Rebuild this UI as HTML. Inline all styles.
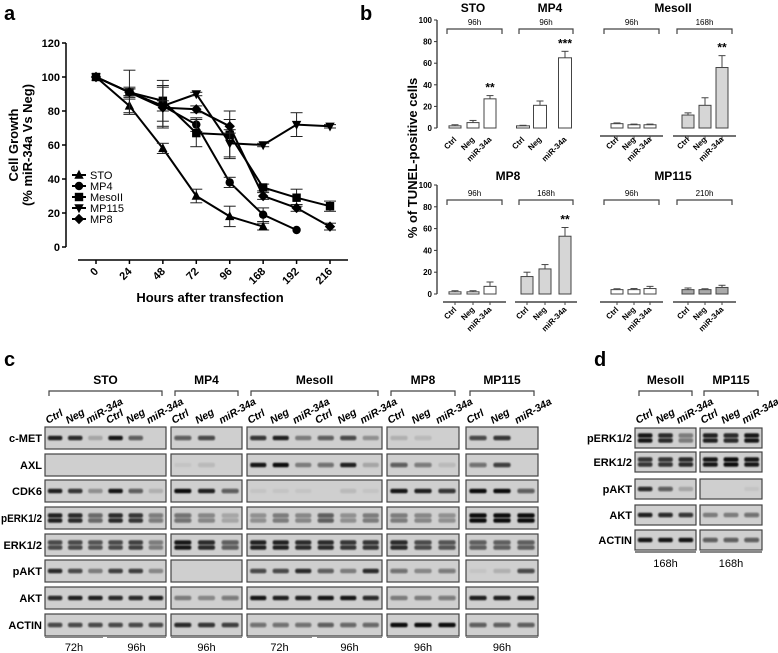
<!DOCTYPE html>
<html><head><meta charset="utf-8"><style>
body{margin:0;background:#fff}
svg{display:block;font-family:"Liberation Sans",Arial,sans-serif}
</style></head><body>
<svg id="fig" width="778" height="653" viewBox="0 0 778 653" xmlns="http://www.w3.org/2000/svg">
<defs><filter id="blur" x="-20%" y="-100%" width="140%" height="300%"><feGaussianBlur stdDeviation="0.9"/></filter></defs>
<g id="pa"></g>
<g id="pb"></g>
<g id="pc"></g>
<g id="pd"></g>
</svg>
<script>
const NS='http://www.w3.org/2000/svg';
function el(tag,attrs,parent,txt){const e=document.createElementNS(NS,tag);for(const k in attrs)e.setAttribute(k,attrs[k]);if(txt!==undefined)e.textContent=txt;parent.appendChild(e);return e;}

// ===== Panel a data =====
const hours=['0','24','48','72','96','168','192','216'];
const seriesNames=['STO','MP4','MesoII','MP115','MP8'];
const stoVals=[100,83,58,30,18,12,null,null];
const mp4Vals=[100,91,83,72,38,19,10,null];
const mesoVals=[100,91,86,67,66,35,29,24];
const mp115Vals=[100,91,83,90,61,60,72,71];
const mp8Vals=[100,91,82,81,71,30,23,12];
const stoErr=[0,4,3,4,6,2,0,0];
const mp4Err=[0,3,12,4,3,4,0,0];
const mesoErr=[0,13,12,8,14,2,5,3];
const mp115Err=[0,2,3,1,8,1,7,1];
const mp8Err=[0,2,12,2,4,2,2,2];
const yTicksA=[0,20,40,60,80,100,120];

// ===== Panel b data =====
const tunelCats=['Ctrl','Neg','miR-34a'];
const stoTunel=[2,5,27], stoTunelErr=[1,2,3];
const mp4Tunel=[2,21,65], mp4TunelErr=[0.5,4,6];
const meso96Tunel=[4,3,3], meso96TunelErr=[0.7,0.6,0.6];
const meso168Tunel=[12,21,56], meso168TunelErr=[2,7,11];
const mp8_96Tunel=[2,2,7], mp8_96TunelErr=[1,1,4];
const mp8_168Tunel=[16,23,53], mp8_168TunelErr=[4,4,8];
const mp115_96Tunel=[4,4,5], mp115_96TunelErr=[0.8,1,2];
const mp115_210Tunel=[4,4,6], mp115_210TunelErr=[1.5,0.8,2];
const yTicksB=[0,20,40,60,80,100];

// ===== Panel a =====
(function(){
const g=document.getElementById('pa');
el('text',{x:4,y:20,'font-size':20,'font-weight':'bold',},g,'a');
const y0=247,y1=43,x0=96,dx=(330-96)/7;
const Y=v=>y0-(v/120)*(y0-y1), X=i=>x0+i*dx;
const ax=el('g',{},g);
el('line',{x1:66,y1:Y(0),x2:66,y2:Y(120),stroke:'#000','stroke-width':1.5},ax);
yTicksA.forEach(t=>{el('line',{x1:62,y1:Y(t),x2:66,y2:Y(t),stroke:'#000','stroke-width':1.5},ax);
 el('text',{x:60,y:Y(t)+4,'text-anchor':'end','font-size':11,'font-weight':'bold'},ax,t);});
const xa=el('g',{},g);
el('line',{x1:78,y1:260,x2:348,y2:260,stroke:'#000','stroke-width':1.5},xa);
hours.forEach((h,i)=>{el('line',{x1:X(i),y1:260,x2:X(i),y2:264,stroke:'#000','stroke-width':1.5},xa);
 el('text',{x:X(i)+3,y:272,'text-anchor':'end','font-size':11,'font-weight':'bold',transform:`rotate(-45 ${X(i)+3} 272)`},xa,h);});
el('text',{x:210,y:302,'text-anchor':'middle','font-size':13,'font-weight':'bold',},g,'Hours after transfection');
const yt=el('text',{x:0,y:0,'text-anchor':'middle','font-size':13,'font-weight':'bold',transform:'translate(18 145) rotate(-90)',},g);
el('tspan',{x:0,dy:0},yt,'Cell Growth');el('tspan',{x:0,dy:14},yt,'(% miR-34a Vs Neg)');
function marker(kind,cx,cy,p){
 const r=4.2;
 if(kind===0)return el('polygon',{points:`${cx},${cy-r-1} ${cx-r-0.5},${cy+r-0.5} ${cx+r+0.5},${cy+r-0.5}`,fill:'#000'},p);
 if(kind===1)return el('circle',{cx,cy,r,fill:'#000'},p);
 if(kind===2)return el('rect',{x:cx-r,y:cy-r,width:2*r,height:2*r,fill:'#000'},p);
 if(kind===3)return el('polygon',{points:`${cx},${cy+r+1} ${cx-r-0.5},${cy-r+0.5} ${cx+r+0.5},${cy-r+0.5}`,fill:'#000'},p);
 return el('polygon',{points:`${cx},${cy-r-1} ${cx+r+1},${cy} ${cx},${cy+r+1} ${cx-r-1},${cy}`,fill:'#000'},p);
}
const all=[stoVals,mp4Vals,mesoVals,mp115Vals,mp8Vals], errs=[stoErr,mp4Err,mesoErr,mp115Err,mp8Err];
all.forEach((vals,s)=>{
 const sg=el('g',{},g);
 let pts=[];vals.forEach((v,i)=>{if(v!==null)pts.push(X(i)+','+Y(v));});
 el('polyline',{points:pts.join(' '),fill:'none',stroke:'#000','stroke-width':2},sg);
 vals.forEach((v,i)=>{if(v===null)return;const e=errs[s][i];
  if(e>0){el('line',{x1:X(i),y1:Y(v+e),x2:X(i),y2:Y(v-e),stroke:'#222','stroke-width':1},sg);
   el('line',{x1:X(i)-6,y1:Y(v+e),x2:X(i)+6,y2:Y(v+e),stroke:'#222','stroke-width':1},sg);
   el('line',{x1:X(i)-6,y1:Y(v-e),x2:X(i)+6,y2:Y(v-e),stroke:'#222','stroke-width':1},sg);}
  marker(s,X(i),Y(v),sg);});
});
const lg=el('g',{},g);
seriesNames.forEach((n,s)=>{const yy=175+s*11;const e=el('g',{},lg);
 el('line',{x1:72,y1:yy,x2:86,y2:yy,stroke:'#000','stroke-width':2},e);marker(s,79,yy,e);
 el('text',{x:90,y:yy+4,'font-size':11},e,n);});
})();

// ===== Panel b =====
(function(){
const g=document.getElementById('pb');
el('text',{x:360,y:20,'font-size':20,'font-weight':'bold',},g,'b');
el('text',{x:0,y:0,'text-anchor':'middle','font-size':13,'font-weight':'bold',transform:'translate(417 158) rotate(-90)',},g,'% of TUNEL-positive cells');
const rows=[{b:128,t:20,brk:29,lab:140,line:[false,false,true,true]},{b:294,t:185,brk:200,lab:310,line:[true,true,true,true]}];
rows.forEach((r,ri)=>{
 const Y=v=>r.b-v/100*(r.b-r.t);
 const ax=el('g',{},g);
 el('line',{x1:437,y1:Y(0),x2:437,y2:Y(100),stroke:'#333','stroke-width':1.3},ax);
 yTicksB.forEach(t=>{el('line',{x1:434,y1:Y(t),x2:437,y2:Y(t),stroke:'#333'},ax);
  el('text',{x:432,y:Y(t)+3,'text-anchor':'end','font-size':8,'font-weight':'bold'},ax,t);});
});
const groups=[
 {r:0,x0:447,x1:502,c:[455,473,490],w:12,v:stoTunel,e:stoTunelErr,f:'#fff',h:'96h',st:'**'},
 {r:0,x0:519,x1:573,c:[523,540,565],w:13,v:mp4Tunel,e:mp4TunelErr,f:'#fff',h:'96h',st:'***'},
 {r:0,x0:604,x1:659,c:[617,634,650],w:12,v:meso96Tunel,e:meso96TunelErr,f:'#fff',h:'96h',st:''},
 {r:0,x0:677,x1:732,c:[688,705,722],w:12,v:meso168Tunel,e:meso168TunelErr,f:'#d6d6d6',h:'168h',st:'**'},
 {r:1,x0:447,x1:502,c:[455,473,490],w:12,v:mp8_96Tunel,e:mp8_96TunelErr,f:'#fff',h:'96h',st:''},
 {r:1,x0:519,x1:573,c:[527,545,565],w:12,v:mp8_168Tunel,e:mp8_168TunelErr,f:'#d6d6d6',h:'168h',st:'**'},
 {r:1,x0:604,x1:659,c:[617,634,650],w:12,v:mp115_96Tunel,e:mp115_96TunelErr,f:'#fff',h:'96h',st:''},
 {r:1,x0:677,x1:732,c:[688,705,722],w:12,v:mp115_210Tunel,e:mp115_210TunelErr,f:'#aaa',h:'210h',st:''}];
groups.forEach((gr,gi)=>{
 const r=rows[gr.r];const Y=v=>r.b-v/100*(r.b-r.t);
 const gg=el('g',{},g);
 el('path',{d:`M${gr.x0} ${r.brk+5}V${r.brk}H${gr.x1}V${r.brk+5}`,fill:'none',stroke:'#444','stroke-width':1.2},gg);
 el('text',{x:(gr.x0+gr.x1)/2,y:r.brk-4,'text-anchor':'middle','font-size':8},gg,gr.h);
 if(r.line[gi%4])el('line',{x1:gr.x0-4,y1:r.b+8,x2:gr.x1+4,y2:r.b+8,stroke:'#444','stroke-width':1.5},gg);
 gr.v.forEach((v,i)=>{const cx=gr.c[i],e=gr.e[i];
  el('line',{x1:cx,y1:Y(v),x2:cx,y2:Y(v+e),stroke:'#444'},gg);
  el('line',{x1:cx-3.5,y1:Y(v+e),x2:cx+3.5,y2:Y(v+e),stroke:'#444'},gg);
  const bar=el('rect',{x:cx-gr.w/2,y:Y(v),width:gr.w,height:Math.max(r.b-Y(v),1),fill:gr.f,stroke:'#444','stroke-width':1},gg);
  
  
  if(r.line[gi%4])el('line',{x1:cx,y1:r.b+8,x2:cx,y2:r.b+11,stroke:'#444'},gg);
  const lx=cx+2,ly=r.lab;
  el('text',{x:lx,y:ly,'text-anchor':'end','font-size':8,'font-weight':'bold',transform:`rotate(-45 ${lx} ${ly})`},gg,tunelCats[i]);});
 if(gr.st){const last=gr.v.length-1;el('text',{x:gr.c[last],y:Y(gr.v[last]+gr.e[last])-4,'text-anchor':'middle','font-size':12,'font-weight':'bold'},gg,gr.st);}
});
[['STO',473,12],['MP4',550,12],['MesoII',673,12],['MP8',508,180],['MP115',673,180]].forEach(t=>{
 el('text',{x:t[1],y:t[2],'text-anchor':'middle','font-size':12,'font-weight':'bold',},g,t[0]);});
})();

// ===== Blot data =====
const rowsC=['c-MET','AXL','CDK6','pERK1/2','ERK1/2','pAKT','AKT','ACTIN'];
const dbl=[false,false,false,true,true,false,false,false];
const blotSTO=[[.9,.85,.2,.95,.6,0],[0,0,0,0,0,0],[.9,.8,.3,.95,.6,.15],[.9,.85,.55,.85,.8,.45],[.7,.7,.65,.7,.75,.4],[.85,.7,.4,.75,.75,.35],[.85,.9,.9,.85,.85,.9],[.7,.7,.7,.7,.7,.7]];
const blotMP4=[[.6,.7,0],[.05,.1,0],[1,.9,.6],[.5,.35,.2],[.95,.85,.6],[0,0,0],[.4,.35,.45],[.85,.8,.75]];
const blotMeso=[[.8,.9,.4,.6,.7,.3],[.95,1,.4,.5,.9,.2],[.05,.05,.05,0,.1,.05],[.3,.4,.35,.6,.3,.4],[.9,.9,.85,.85,.8,.8],[.7,.7,.85,.6,.4,.85],[.95,.9,.9,.95,.95,.85],[.5,.5,.5,.6,.55,.55]];
const blotMP8=[[.15,.1,0],[.6,.45,.1],[.95,.9,.8],[.4,.35,.3],[.85,.7,.65],[.5,.35,.45],[.4,.4,.45],[1,1,1]];
const blotMP115=[[.7,.8,0],[.5,.75,0],[1,1,.6],[1,1,1],[.6,.6,.6],[.05,.15,.7],[.9,.9,.95],[.6,.6,.6]];
const rowsD=['pERK1/2','ERK1/2','pAKT','AKT','ACTIN'];
const dblD=[true,true,false,false,false];
const blotDMeso=[[.95,.85,.4],[.8,.8,.85],[.85,.6,.2],[.9,.85,.8],[.95,.95,.95]];
const blotDMP115=[[.9,.85,.95],[.95,1,.95],[0,0,.05],[.4,.4,.5],[.6,.6,.6]];
const laneNames3=['Ctrl','Neg','miR-34a'];

function fitText(t,maxW){try{const w=t.getComputedTextLength();if(w>maxW){t.setAttribute('textLength',maxW);t.setAttribute('lengthAdjust','spacingAndGlyphs');}}catch(e){}}
function blotPanel(g,groups,rowNames,dblArr,rowY,boxH,labelX,titleY,brY,laneY,bottomY,timeY,maxLab){
 rowNames.forEach((n,ri)=>{const t=el('text',{x:labelX,y:rowY[ri]+4,'text-anchor':'end','font-size':11,'font-weight':'bold',},g,n);fitText(t,maxLab);});
 groups.forEach(gr=>{
  const gg=el('g',{},g);
  el('text',{x:(gr.x0+gr.x1)/2,y:titleY,'text-anchor':'middle','font-size':12,'font-weight':'bold'},gg,gr.name);
  el('path',{d:`M${gr.x0+4} ${brY+5}V${brY}H${gr.x1-4}V${brY+5}`,fill:'none',stroke:'#444','stroke-width':1.2},gg);
  const n=gr.data[0].length,pitch=(gr.x1-gr.x0)/n;
  gr.data.forEach((row,ri)=>{
   const cy=rowY[ri];
   el('rect',{x:gr.x0,y:cy-boxH/2,width:gr.x1-gr.x0,height:boxH,fill:'#cfcfcf',stroke:'#444','stroke-width':1.2},gg);
   row.forEach((v,i)=>{if(v<=0)return;const cx=gr.x0+pitch*(i+0.5),w=pitch*0.72;
    const ys=dblArr[ri]?[cy-2.5,cy+2.5]:[cy];
    ys.forEach(yb=>el('rect',{x:cx-w/2,y:yb-2.2,width:w,height:4.4,rx:2,fill:`rgba(15,15,15,${Math.min(1,v)})`,filter:'url(#blur)'},gg));});
  });
  for(let i=0;i<n;i++){const lx=gr.x0+pitch*i+3;
   el('text',{x:lx,y:laneY,'text-anchor':'start','font-size':10.5,'font-weight':'bold','font-style':'italic',transform:`rotate(-30 ${lx} ${laneY})`},gg,laneNames3[i%3]);}
  gr.times.forEach(t=>{el('line',{x1:t[0],y1:bottomY,x2:t[1],y2:bottomY,stroke:'#888','stroke-width':2},gg);
   el('text',{x:(t[0]+t[1])/2,y:timeY,'text-anchor':'middle','font-size':11},gg,t[2]);});
 });
}
(function(){
const g=document.getElementById('pc');
el('text',{x:4,y:366,'font-size':20,'font-weight':'bold',},g,'c');
const rowY=[438,465,491,518,545,571,598,625];
blotPanel(g,[
 {name:'STO',x0:45,x1:166,data:blotSTO,times:[[45,103,'72h'],[107,166,'96h']]},
 {name:'MP4',x0:171,x1:242,data:blotMP4,times:[[171,242,'96h']]},
 {name:'MesoII',x0:247,x1:382,data:blotMeso,times:[[247,312,'72h'],[317,382,'96h']]},
 {name:'MP8',x0:387,x1:459,data:blotMP8,times:[[387,459,'96h']]},
 {name:'MP115',x0:466,x1:538,data:blotMP115,times:[[466,538,'96h']]}],
 rowsC,dbl,rowY,22,42,384,391,424,637,651,41);
})();
(function(){
const g=document.getElementById('pd');
el('text',{x:594,y:366,'font-size':20,'font-weight':'bold',},g,'d');
const rowY=[438,462,489,515,540];
blotPanel(g,[
 {name:'MesoII',x0:635,x1:696,data:blotDMeso,times:[[635,696,'168h']]},
 {name:'MP115',x0:700,x1:762,data:blotDMP115,times:[[700,762,'168h']]}],
 rowsD,dblD,rowY,20,632,384,391,424,552,567,45);
})();
</script>
</body></html>
